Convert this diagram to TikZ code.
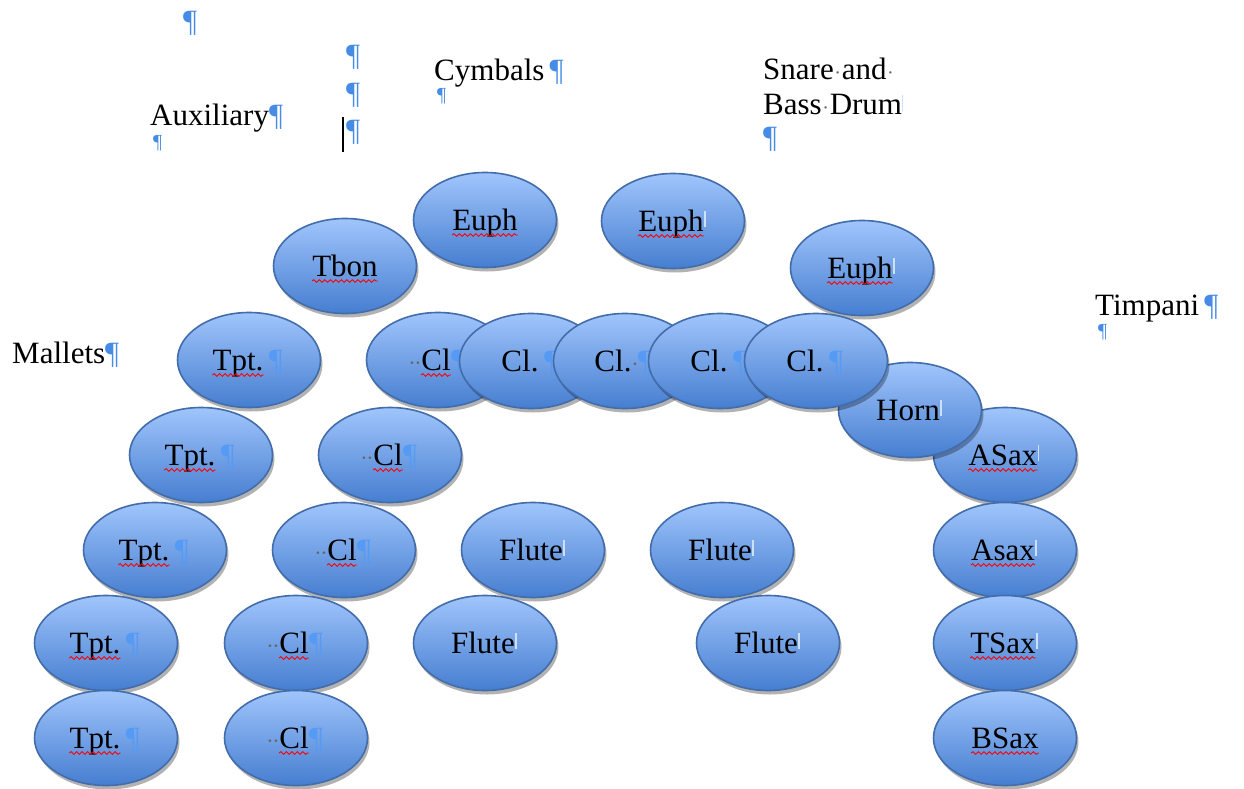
\documentclass[tikz,border=0pt]{standalone}
\usepackage{fontspec}
\setmainfont{Liberation Serif}
\usetikzlibrary{shapes.geometric,shadows,decorations.pathmorphing}
\definecolor{ovtop}{RGB}{160,197,252}
\definecolor{ovbot}{RGB}{70,126,208}
\definecolor{ovline}{RGB}{66,108,170}
\definecolor{pil}{RGB}{70,140,230}
\definecolor{pilin}{RGB}{85,155,245}
\definecolor{faint}{RGB}{205,226,250}
\newcommand\pl{\textcolor{pil}{¶}}
\newcommand\ipl{\textcolor{pilin}{¶}}
\newcommand\fpl{\textcolor{faint}{\rule[4pt]{1.4pt}{16pt}}}
\newcommand\sd{\hbox to 6pt{\hss\textcolor{black!60}{\fontsize{22}{22}\selectfont·}\hss}}
\newcommand\sw{\hbox to 8pt{\hss\textcolor{black!60}{\fontsize{20}{20}\selectfont·}\hss}}
% name, x, y, dx, prefix, word, suffix
\newcommand\inst[7]{%
  \node[oval] (#1) at (#2,#3) {};
  \node[word] (#1w) at ([xshift=#4pt,yshift=-10pt]#1.center) {#6};
  \node[pre] (#1p) at (#1w.base west) {#5};
  \node[suf] (#1s) at (#1w.base east) {#7};}
\newcommand\wv[1]{\draw[wave] ([yshift=-5pt]#1w.base west) -- ([yshift=-5pt]#1w.base east);}
\begin{document}
\begin{tikzpicture}[x=1pt,y=-1pt,
  every node/.style={font=\fontsize{31}{36}\selectfont},
  oval/.style={ellipse, minimum width=143pt, minimum height=95pt, inner sep=0pt,
    draw=ovline, line width=1.6pt, top color=ovtop, bottom color=ovbot,
    drop shadow={shadow xshift=2pt, shadow yshift=-4pt, opacity=0.3, fill=black}},
  word/.style={anchor=base, inner sep=0pt},
  pre/.style={anchor=base east, inner sep=0pt},
  suf/.style={anchor=base west, inner sep=0pt},
  wave/.style={red, line width=0.9pt, decorate,
    decoration={snake, amplitude=1.3pt, segment length=5.5pt}},
  lbl/.style={anchor=base west, inner sep=0pt},
  small/.style={lbl, font=\fontsize{20}{24}\selectfont}]
\useasboundingbox (0,0) rectangle (1244,789);
\fill[white] (0,0) rectangle (1244,789);

% free text
\node[lbl] (p0) at (183,32) {\pl};
\node[lbl] (p1) at (346,66) {\pl};
\node[lbl] (p2) at (346,104) {\pl};
\node[lbl] (p3) at (346,140) {\pl};
\draw[line width=1.4pt] (343,117) -- (343,152);
\node[lbl] (aux) at (150,126) {Auxiliary\pl};
\node[small] (auxp) at (153,149) {\pl};
\node[lbl] (cym) at (434,81) {Cymbals\,\pl};
\node[small] (cymp) at (437,102) {\pl};
\node[lbl] (snare) at (763,80) {Snare\sw and\sw};
\node[lbl] (bass) at (763,115) {Bass\sw Drum\fpl};
\node[lbl] (snp) at (763,147) {\pl};
\node[lbl] (timp) at (1095,315) {Timpani\,\pl};
\node[small] (timpp) at (1098,337) {\pl};
\node[lbl] (mal) at (12,363) {Mallets\pl};

% ensemble
\inst{eu1}{485}{220}{0}{}{Euph}{}\wv{eu1}
\inst{eu2}{673}{221}{-2}{}{Euph}{\fpl}\wv{eu2}
\inst{tb}{345}{266}{0}{}{Tbon}{}\wv{tb}
\inst{eu3}{862}{268}{-2}{}{Euph}{\fpl}\wv{eu3}
\inst{tp1}{249}{360}{-11}{}{Tpt.}{\,\ipl}\wv{tp1}
\inst{as1}{1005}{455}{-2}{}{ASax}{\fpl}\wv{as1}
\inst{hn}{910}{410}{-2}{}{Horn}{\fpl}
\inst{c1}{438}{360}{-2}{\sd\sd}{Cl}{\ipl}\wv{c1}
\inst{c2}{531}{361}{-11}{}{Cl.}{\,\ipl}
\inst{c3}{625}{361}{-12}{}{Cl.}{\sd\ipl}
\inst{c4}{720}{361}{-11}{}{Cl.}{\,\ipl}
\inst{c5}{816}{361}{-11}{}{Cl.}{\,\ipl}
\inst{tp2}{201}{455}{-11}{}{Tpt.}{\,\ipl}\wv{tp2}
\inst{c6}{390}{455}{-2}{\sd\sd}{Cl}{\ipl}\wv{c6}
\inst{tp3}{155}{550}{-11}{}{Tpt.}{\,\ipl}\wv{tp3}
\inst{c7}{344}{550}{-2}{\sd\sd}{Cl}{\ipl}\wv{c7}
\inst{f1}{533}{550}{-2}{}{Flute}{\fpl}
\inst{f2}{722}{550}{-2}{}{Flute}{\fpl}
\inst{as2}{1005}{550}{-2}{}{Asax}{\fpl}\wv{as2}
\inst{tp4}{106}{643}{-11}{}{Tpt.}{\,\ipl}\wv{tp4}
\inst{c8}{296}{643}{-2}{\sd\sd}{Cl}{\ipl}\wv{c8}
\inst{f3}{485}{643}{-2}{}{Flute}{\fpl}
\inst{f4}{768}{643}{-2}{}{Flute}{\fpl}
\inst{ts}{1005}{643}{-2}{}{TSax}{\fpl}\wv{ts}
\inst{tp5}{106}{738}{-11}{}{Tpt.}{\,\ipl}\wv{tp5}
\inst{c9}{296}{738}{-2}{\sd\sd}{Cl}{\ipl}\wv{c9}
\inst{bs}{1005}{738}{0}{}{BSax}{}\wv{bs}
\end{tikzpicture}
\end{document}
